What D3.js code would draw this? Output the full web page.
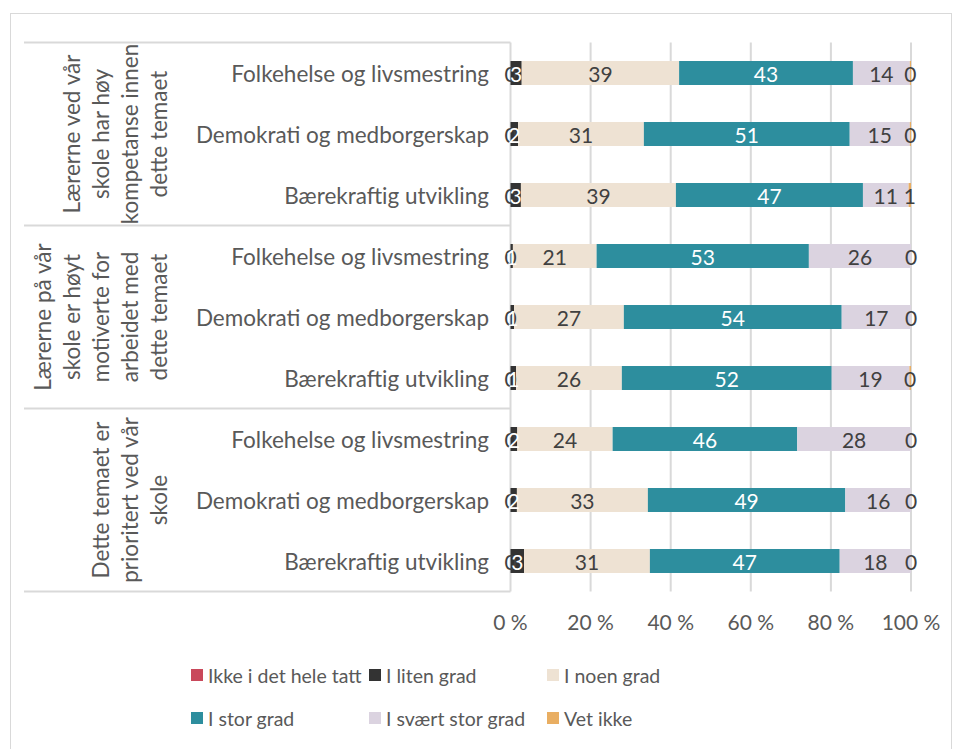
<!DOCTYPE html>
<html><head><meta charset="utf-8">
<script src="https://cdn.jsdelivr.net/npm/d3@7"></script>
<style>body{margin:0;background:#fff}svg{display:block}text{font-family:Lato,"Noto Sans",sans-serif}</style>
</head><body><svg id="c" width="958" height="749"></svg>
<script>
const groups = [
  ["Lærerne ved vår","skole har høy","kompetanse innen","dette temaet"],
  ["Lærerne på vår","skole er høyt","motiverte for","arbeidet med","dette temaet"],
  ["Dette temaet er","prioritert ved vår","skole"]
];
const topics = ["Folkehelse og livsmestring","Demokrati og medborgerskap","Bærekraftig utvikling"];
const seriesNames = ["Ikke i det hele tatt","I liten grad","I noen grad","I stor grad","I svært stor grad","Vet ikke"];
const seriesColors = ["#C9485B","#333333","#EEE2D3","#2D8E9E","#DBD3E0","#E9AE62"];
const labelColors = ["#404040","#ffffff","#404040","#ffffff","#404040","#404040"];
// rows: group 1 (3 topics), group 2, group 3
const ikke   = [0,0,0, 0,0,0, 0,0,0];
const liten  = [2.8,1.9,2.6, 0.6,0.9,1.4, 1.7,1.6,3.4];
const noen   = [39.3,31.4,38.7, 20.9,27.4,26.4, 23.8,32.7,31.4];
const stor   = [43.4,51.4,46.7, 53.0,54.4,52.4, 46.1,49.3,47.4];
const svaert = [14.2,15.0,11.4, 25.5,17.3,19.4, 28.4,16.4,17.8];
const vetIkke= [0.3,0.3,0.6, 0,0,0.4, 0,0,0];
const tickValues = [0,20,40,60,80,100];
const tickLabels = ["0 %","20 %","40 %","60 %","80 %","100 %"];

const seriesVals = [ikke,liten,noen,stor,svaert,vetIkke];
const rows = [];
groups.forEach((g,gi)=>topics.forEach((t,ti)=>rows.push({gi,ti,topic:t,idx:gi*3+ti})));

const svg = d3.select("#c");
svg.append("rect").attr("x",10.5).attr("y",13.5).attr("width",941).attr("height",760)
  .attr("fill","none").attr("stroke","#D9D9D9").attr("stroke-width",1);

const x = d3.scaleLinear().domain([0,100]).range([510.5,911]);
const y = d3.scaleBand().domain(rows.map(r=>r.idx)).range([42.5,591.5]).paddingInner(0.607).paddingOuter(0.3035);

// gridlines
svg.append("g").selectAll("line").data(tickValues).join("line")
  .attr("x1",d=>x(d)).attr("x2",d=>x(d)).attr("y1",42.5).attr("y2",591.5)
  .attr("stroke","#D9D9D9").attr("stroke-width",2);

// group separators
const sepY = [0,3,6,9].map(i=> i<9 ? y(i)-y.step()*y.paddingOuter() : y(8)+y.bandwidth()+y.step()*y.paddingOuter());
svg.append("g").selectAll("line").data(sepY).join("line")
  .attr("x1",24).attr("x2",x(0)).attr("y1",d=>d).attr("y2",d=>d)
  .attr("stroke","#D9D9D9").attr("stroke-width",2);

// stacked data
const stacked = rows.map(r=>{
  let c=0;
  return seriesVals.map((s,si)=>{const v=s[r.idx]; const o={si,row:r.idx,v,x0:c,x1:c+v}; c+=v; return o;});
});
const segs = stacked.flat();

svg.append("g").selectAll("rect").data(segs.filter(d=>d.v>0)).join("rect")
  .attr("x",d=>x(d.x0)).attr("width",d=>x(d.x1)-x(d.x0))
  .attr("y",d=>y(d.row)).attr("height",y.bandwidth())
  .attr("fill",d=>seriesColors[d.si]);

svg.append("g").selectAll("text").data(segs).join("text")
  .attr("x",d=>x((d.x0+d.x1)/2)).attr("y",d=>y(d.row)+y.bandwidth()/2)
  .attr("text-anchor","middle").attr("dominant-baseline","central")
  .attr("font-size",21).attr("fill",d=>labelColors[d.si])
  .text(d=>Math.round(d.v));

// category labels
svg.append("g").selectAll("text").data(rows).join("text")
  .attr("x",489).attr("y",r=>y(r.idx)+y.bandwidth()/2)
  .attr("text-anchor","end").attr("dominant-baseline","central")
  .attr("font-size",22.5).attr("fill","#595959").text(r=>r.topic);

// group labels (rotated)
groups.forEach((lines,gi)=>{
  const cy = (sepY[gi]+sepY[gi+1])/2;
  const n = lines.length;
  lines.forEach((ln,i)=>{
    const lx = 158 - (n-1-i)*29;
    svg.append("text").attr("transform",`translate(${lx},${cy}) rotate(-90)`)
      .attr("text-anchor","middle").attr("dominant-baseline","central")
      .attr("font-size",22.5).attr("fill","#595959").text(ln);
  });
});

// x tick labels
svg.append("g").selectAll("text").data(tickValues).join("text")
  .attr("x",d=>x(d)).attr("y",621).attr("text-anchor","middle").attr("dominant-baseline","central")
  .attr("font-size",21).attr("fill","#595959").text((d,i)=>tickLabels[i]);

// legend
const legX = [191,369,547], legY = [675,718];
const leg = svg.append("g").selectAll("g").data(seriesNames).join("g")
  .attr("transform",(d,i)=>`translate(${legX[i%3]},${legY[Math.floor(i/3)]})`);
leg.append("rect").attr("x",0).attr("y",-6).attr("width",12).attr("height",12).attr("fill",(d,i)=>seriesColors[i]);
leg.append("text").attr("x",17).attr("y",0).attr("dominant-baseline","central")
  .attr("font-size",19.5).attr("fill","#595959").text(d=>d);
</script></body></html>
